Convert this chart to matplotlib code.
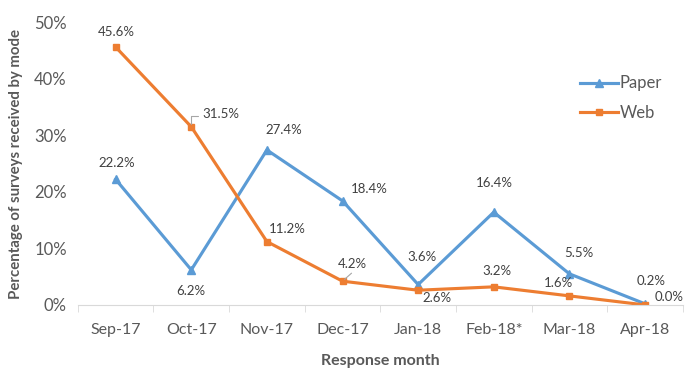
import matplotlib.pyplot as plt
import numpy as np
from matplotlib.ticker import FuncFormatter, FixedLocator

months = ['Sep-17', 'Oct-17', 'Nov-17', 'Dec-17', 'Jan-18', 'Feb-18*', 'Mar-18', 'Apr-18']
paper = [22.2, 6.2, 27.4, 18.4, 3.6, 16.4, 5.5, 0.2]
web = [45.6, 31.5, 11.2, 4.2, 2.6, 3.2, 1.6, 0.0]

# label offsets in pixels (dx, dy)
paper_off = [(1, 16), (0, -21), (17, 20), (27, 12), (4, 28), (1, 29), (10, 21), (6, 23)]
web_off = [(1, 15), (30, 13), (20, 13), (10, 17), (19, -8), (3, 16), (-11, 13), (24, 8)]

plt.rcParams['font.family'] = ['Lato', 'DejaVu Sans']

blue = '#5B9BD5'
orange = '#ED7D31'
grey = '#595959'

fig = plt.figure(figsize=(6.89, 3.76), dpi=100)
ax = fig.add_axes([0.113, 0.189, 0.878, 0.752])

x = np.arange(len(months))
ax.plot(x, paper, color=blue, lw=2.25, marker='^', ms=6, label='Paper')
ax.plot(x, web, color=orange, lw=2.25, marker='s', ms=5, label='Web')

for i in range(len(x)):
    ax.annotate(f'{paper[i]:.1f}%', (x[i], paper[i]), xytext=paper_off[i],
                textcoords='offset pixels', ha='center', va='center',
                fontsize=9.5, color='#404040')
    ax.annotate(f'{web[i]:.1f}%', (x[i], web[i]), xytext=web_off[i],
                textcoords='offset pixels', ha='center', va='center',
                fontsize=9.5, color='#404040')

# leader lines for the Oct-17 and Dec-17 web labels
ax.annotate('', (x[1], web[1]), xytext=(7, 11), textcoords='offset pixels',
            arrowprops=dict(arrowstyle='-', color='#a6a6a6', lw=0.8,
                            connectionstyle='angle,angleA=0,angleB=90,rad=0',
                            shrinkA=0, shrinkB=2))
ax.annotate('', (x[3], web[3]), xytext=(9, 8), textcoords='offset pixels',
            arrowprops=dict(arrowstyle='-', color='#a6a6a6', lw=0.8,
                            shrinkA=0, shrinkB=2))

ax.set_xlim(-0.5, len(months) - 0.5)
ax.set_ylim(0, 50)
ax.set_yticks(np.arange(0, 51, 10))
ax.yaxis.set_major_formatter(FuncFormatter(lambda v, p: f'{v:.0f}%'))
ax.set_xticks(x)
ax.set_xticklabels(months)
ax.xaxis.set_minor_locator(FixedLocator(np.arange(-0.5, len(months), 1)))
ax.tick_params(axis='x', which='major', length=0, pad=13, labelsize=11.5, colors=grey)
ax.tick_params(axis='x', which='minor', length=5, color='#d9d9d9', direction='out')
ax.tick_params(axis='y', length=0, pad=8, labelsize=12, colors=grey)

for s in ['top', 'right', 'left']:
    ax.spines[s].set_visible(False)
ax.spines['bottom'].set_color('#d9d9d9')

ax.set_xlabel('Response month', fontsize=11.5, fontweight='bold', color=grey, labelpad=12)
ax.set_ylabel('Percentage of surveys received by mode', fontsize=10.8, fontweight='bold',
              color=grey, labelpad=8)

ax.legend(loc='upper left', bbox_to_anchor=(0.805, 0.865), frameon=False, fontsize=12,
          labelcolor=grey, handlelength=2.3, handletextpad=0.1, labelspacing=0.8)

fig.savefig('out.png', dpi=100)
